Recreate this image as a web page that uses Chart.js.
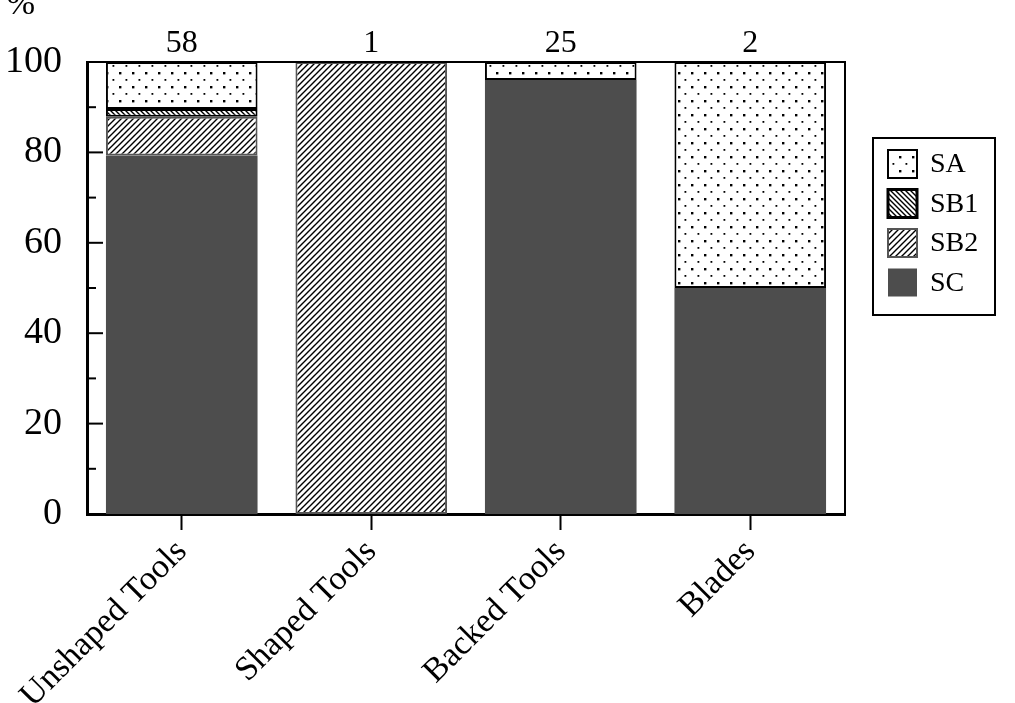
<!DOCTYPE html>
<html>
<head>
<meta charset="utf-8">
<script src="https://cdn.jsdelivr.net/npm/chart.js@4.4.1/dist/chart.umd.min.js"></script>
<style>
  html, body { margin: 0; padding: 0; background: #fff; }
  #wrap { width: 1015px; height: 703px; }
</style>
</head>
<body>
<div id="wrap"><canvas id="chart" width="1015" height="703"></canvas></div>
<script>
// categories and values (percent of each tool class)
const categories = ['Unshaped Tools', 'Shaped Tools', 'Backed Tools', 'Blades'];
const counts = [58, 1, 25, 2];
const sc_values  = [79.3, 0, 96, 50];
const sb2_values = [8.6, 100, 0, 0];
const sb1_values = [1.7, 0, 0, 0];
const sa_values  = [10.4, 0, 4, 50];
const y_ticks = [0, 20, 40, 60, 80, 100];

const FONT = '"Liberation Serif", "DejaVu Serif", serif';

function makePattern(w, h, draw) {
    const c = document.createElement('canvas');
    c.width = w;
    c.height = h;
    const g = c.getContext('2d');
    g.fillStyle = '#fff';
    g.fillRect(0, 0, w, h);
    draw(g, w, h);
    return g.createPattern(c, 'repeat');
}

// dotted fill for SA
const dots = makePattern(13, 14, (g) => {
    g.fillStyle = '#000';
    g.fillRect(2, 2, 2.4, 2.4);
    g.fillRect(8.5, 9, 1.8, 1.8);
});

// back diagonal for SB1
const backHatch = makePattern(5, 5, (g, s) => {
    g.strokeStyle = '#000';
    g.lineWidth = 1.4;
    g.beginPath();
    g.moveTo(0, 0); g.lineTo(s, s);
    g.moveTo(-1, s - 1); g.lineTo(1, s + 1);
    g.moveTo(s - 1, -1); g.lineTo(s + 1, 1);
    g.stroke();
});

// forward diagonal for SB2
const fwdHatch = makePattern(6, 6, (g, s) => {
    g.strokeStyle = '#000';
    g.lineWidth = 1.4;
    g.beginPath();
    g.moveTo(0, s); g.lineTo(s, 0);
    g.moveTo(-1, 1); g.lineTo(1, -1);
    g.moveTo(s - 1, s + 1); g.lineTo(s + 1, s - 1);
    g.stroke();
});

const SC_COLOR = '#4d4d4d';

// frame, inward y ticks, counts above bars, "%" label
const decorPlugin = {
    id: 'decor',
    afterDraw(chart) {
        const ctx = chart.ctx;
        const a = chart.chartArea;
        const y = chart.scales.y;
        const x = chart.scales.x;
        ctx.save();
        ctx.strokeStyle = '#000';
        // top and right frame lines
        ctx.lineWidth = 2;
        ctx.beginPath();
        ctx.moveTo(a.left, a.top);
        ctx.lineTo(a.right, a.top);
        ctx.lineTo(a.right, a.bottom);
        ctx.stroke();
        // inward ticks (major every 20, minor every 10)
        ctx.lineWidth = 2;
        for (let v = 0; v <= 100; v += 10) {
            const py = y.getPixelForValue(v);
            const len = (v % 20 === 0) ? 16 : 9;
            ctx.beginPath();
            ctx.moveTo(a.left, py);
            ctx.lineTo(a.left + len, py);
            ctx.stroke();
        }
        // counts above bars
        ctx.fillStyle = '#000';
        ctx.font = '32px ' + FONT;
        ctx.textAlign = 'center';
        ctx.textBaseline = 'alphabetic';
        counts.forEach((n, i) => {
            ctx.fillText(String(n), x.getPixelForValue(i), a.top - 10);
        });
        // axis unit
        ctx.font = '34px ' + FONT;
        ctx.fillText('%', 21, 14);
        ctx.restore();
    }
};

// boxed legend on the right
const legendPlugin = {
    id: 'boxLegend',
    afterDraw(chart) {
        const ctx = chart.ctx;
        const a = chart.chartArea;
        const left = a.right + 28;
        const top = 138;
        const w = 122;
        const h = 177;
        ctx.save();
        ctx.strokeStyle = '#000';
        ctx.lineWidth = 2;
        ctx.strokeRect(left, top, w, h);
        const items = chart.data.datasets.slice().reverse();
        ctx.font = '28px ' + FONT;
        ctx.textBaseline = 'middle';
        ctx.textAlign = 'left';
        items.forEach((ds, i) => {
            const sy = top + 12 + i * 39.5;
            ctx.fillStyle = ds.backgroundColor;
            ctx.fillRect(left + 15, sy, 29, 28);
            if (ds.borderWidth > 0) {
                ctx.strokeStyle = ds.borderColor;
                ctx.lineWidth = ds.legendBorder;
                ctx.strokeRect(left + 15, sy, 29, 28);
            }
            ctx.fillStyle = '#000';
            ctx.fillText(ds.label, left + 57, sy + 15);
        });
        ctx.restore();
    }
};

const config = {
    type: 'bar',
    data: {
        labels: categories,
        datasets: [
            { label: 'SC', data: sc_values, backgroundColor: SC_COLOR, borderColor: SC_COLOR, borderWidth: 0, legendBorder: 0 },
            { label: 'SB2', data: sb2_values, backgroundColor: fwdHatch, borderColor: '#555', borderWidth: 2, legendBorder: 2 },
            { label: 'SB1', data: sb1_values, backgroundColor: backHatch, borderColor: '#000', borderWidth: 2, legendBorder: 3 },
            { label: 'SA', data: sa_values, backgroundColor: dots, borderColor: '#000', borderWidth: 2, legendBorder: 2 }
        ]
    },
    options: {
        responsive: false,
        animation: false,
        devicePixelRatio: 1,
        layout: {
            autoPadding: false,
            padding: { top: 62, right: 170, left: 0, bottom: 0 }
        },
        datasets: {
            bar: {
                barPercentage: 0.8,
                categoryPercentage: 1.0,
                borderSkipped: false
            }
        },
        plugins: {
            legend: { display: false },
            tooltip: { enabled: false }
        },
        scales: {
            x: {
                stacked: true,
                grid: {
                    offset: false,
                    drawOnChartArea: false,
                    drawTicks: true,
                    tickLength: 16,
                    tickWidth: 2,
                    color: '#000'
                },
                border: { display: true, color: '#000', width: 3 },
                ticks: {
                    color: '#000',
                    font: { family: FONT, size: 34 },
                    minRotation: 45,
                    maxRotation: 45,
                    padding: 2
                },
                afterFit(s) { s.height = 189; }
            },
            y: {
                stacked: true,
                min: 0,
                max: 100,
                afterBuildTicks(s) { s.ticks = y_ticks.map(v => ({ value: v })); },
                grid: { display: false, drawTicks: false },
                border: { display: true, color: '#000', width: 3 },
                ticks: {
                    color: '#000',
                    font: { family: FONT, size: 38 },
                    padding: 25
                },
                afterFit(s) { s.width = 87; }
            }
        }
    },
    plugins: [decorPlugin, legendPlugin]
};

window.onload = function () {
    const ctx = document.getElementById('chart').getContext('2d');
    new Chart(ctx, config);
};
</script>
</body>
</html>
